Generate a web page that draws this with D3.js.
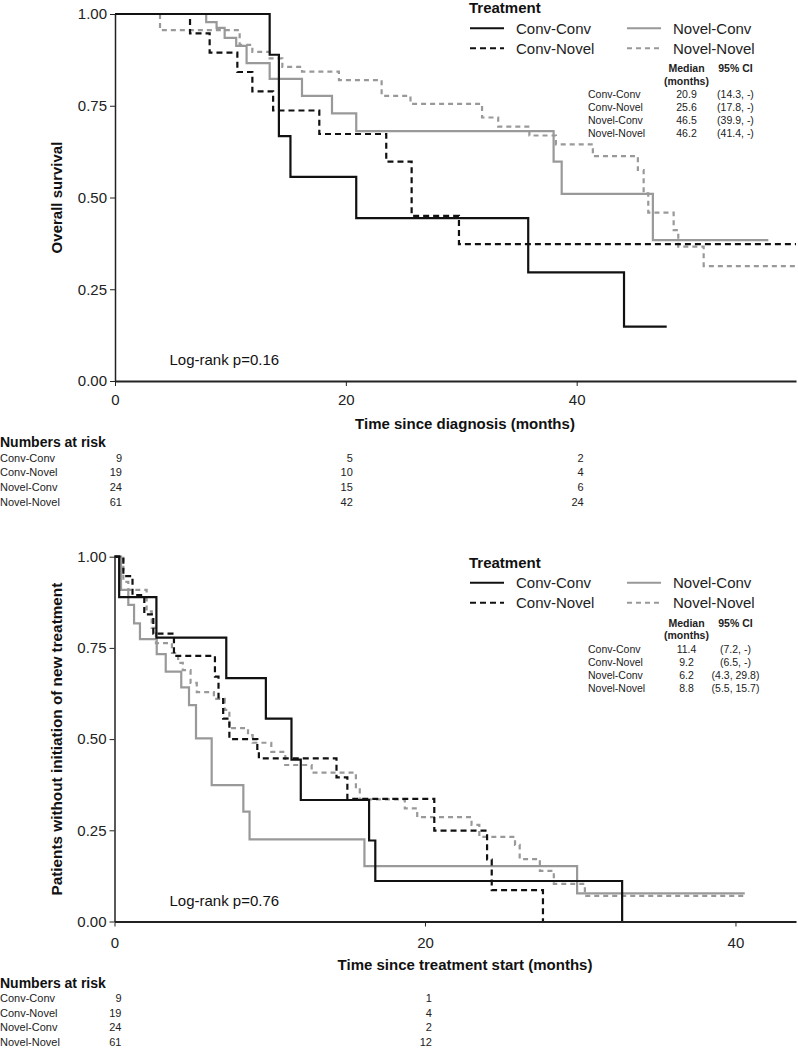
<!DOCTYPE html>
<html><head><meta charset="utf-8">
<script src="https://cdn.jsdelivr.net/npm/d3@7"></script>
<style>
body{margin:0;background:#fff}
svg{display:block}
text{font-family:"Liberation Sans",Arial,Helvetica,sans-serif}
</style>
</head><body>
<svg id="chart" width="798" height="1048"></svg>
<script>
// ---------------- DATA ----------------
const groups = ["Conv-Conv", "Conv-Novel", "Novel-Conv", "Novel-Novel"];
const yTicks = [0, 0.25, 0.5, 0.75, 1];
const xTicks = [0, 20, 40];

// Panel A: overall survival (time since diagnosis, months)
const osConvConvT  = [0, 13.4, 14.2, 15.2, 20.9, 35.8, 44.1, 47.8];
const osConvConvS  = [1, 0.889, 0.667, 0.556, 0.444, 0.296, 0.148, 0.148];
const osConvNovelT = [0, 6.5, 8.2, 10.6, 11.9, 13.7, 17.7, 23.5, 25.7, 29.8, 59];
const osConvNovelS = [1, 0.947, 0.895, 0.842, 0.789, 0.737, 0.673, 0.598, 0.45, 0.373, 0.373];
const osNovelConvT = [0, 7.9, 8.8, 9.5, 10.5, 11.4, 13.4, 16.2, 18.8, 20.9, 38.0, 38.7, 46.6, 56.6];
const osNovelConvS = [1, 0.978, 0.962, 0.935, 0.913, 0.866, 0.823, 0.777, 0.729, 0.681, 0.598, 0.51, 0.384, 0.384];
const osNovelNovelT = [0, 3.9, 10.8, 11.9, 13.4, 14.5, 16.2, 19.4, 23.1, 25.6, 31.8, 33.2, 35.9, 38.2, 41.4, 45.3, 45.8, 46.2, 48.4, 48.8, 51.0, 59];
const osNovelNovelS = [1, 0.956, 0.916, 0.897, 0.879, 0.856, 0.843, 0.82, 0.777, 0.755, 0.718, 0.693, 0.669, 0.645, 0.613, 0.575, 0.511, 0.459, 0.411, 0.366, 0.313, 0.313];
const osRiskTimes = [0, 20, 40];
const osRisk = [[9, 5, 2], [19, 10, 4], [24, 15, 6], [61, 42, 24]];
const osMedian = ["20.9", "25.6", "46.5", "46.2"];
const osCI = ["(14.3, -)", "(17.8, -)", "(39.9, -)", "(41.4, -)"];
const osLogRank = "Log-rank p=0.16";

// Panel B: time to new treatment (time since treatment start, months)
const ntConvConvT  = [0, 0.3, 2.7, 7.2, 9.75, 11.4, 12.0, 16.4, 16.8, 32.7];
const ntConvConvS  = [1, 0.889, 0.778, 0.667, 0.556, 0.444, 0.333, 0.222, 0.111, 0];
const ntConvNovelT = [0, 0.57, 1.16, 1.92, 2.5, 3.83, 6.47, 6.7, 7.0, 7.4, 9.2, 9.3, 14.3, 15.0, 20.6, 24.0, 24.3, 27.6];
const ntConvNovelS = [1, 0.947, 0.895, 0.842, 0.789, 0.728, 0.671, 0.614, 0.556, 0.50, 0.47, 0.447, 0.395, 0.336, 0.249, 0.17, 0.086, 0];
const ntNovelConvT = [0, 0.42, 0.89, 1.26, 1.64, 2.72, 3.3, 4.3, 4.8, 5.25, 6.26, 8.3, 8.7, 16.1, 29.8, 40.6];
const ntNovelConvS = [1, 0.909, 0.868, 0.817, 0.774, 0.733, 0.685, 0.642, 0.593, 0.502, 0.374, 0.301, 0.225, 0.152, 0.077, 0.077];
const ntNovelNovelT = [0, 0.57, 0.89, 2.07, 2.4, 2.67, 3.7, 4.1, 4.4, 4.9, 5.3, 6.4, 7.1, 7.4, 8.6, 8.9, 10.1, 11.0, 12.7, 15.55, 15.8, 18.7, 19.5, 23.0, 23.5, 25.8, 26.1, 27.4, 28.3, 30.3, 40.7];
const ntNovelNovelS = [1, 0.931, 0.909, 0.85, 0.805, 0.763, 0.736, 0.709, 0.689, 0.654, 0.629, 0.61, 0.58, 0.53, 0.511, 0.49, 0.465, 0.429, 0.408, 0.362, 0.335, 0.31, 0.286, 0.265, 0.232, 0.21, 0.171, 0.139, 0.103, 0.07, 0.07];
const ntRiskTimes = [0, 20];
const ntRisk = [[9, 1], [19, 4], [24, 2], [61, 12]];
const ntMedian = ["11.4", "9.2", "6.2", "8.8"];
const ntCI = ["(7.2, -)", "(6.5, -)", "(4.3, 29.8)", "(5.5, 15.7)"];
const ntLogRank = "Log-rank p=0.76";

// ---------------- STYLE / LAYOUT ----------------
const styles = {
  "Conv-Conv":   {color: "#111", dash: null,  w: 2.2},
  "Conv-Novel":  {color: "#111", dash: "6,4", w: 2.2},
  "Novel-Conv":  {color: "#999", dash: null,  w: 2.2},
  "Novel-Novel": {color: "#999", dash: "5,4", w: 2.2}
};
const drawOrder = ["Novel-Novel", "Novel-Conv", "Conv-Novel", "Conv-Conv"];

const panels = [
  {
    curves: {"Conv-Conv": [osConvConvT, osConvConvS], "Conv-Novel": [osConvNovelT, osConvNovelS],
             "Novel-Conv": [osNovelConvT, osNovelConvS], "Novel-Novel": [osNovelNovelT, osNovelNovelS]},
    xDomain: [0, 59], xRange: [115, 796], yRange: [381, 14],
    yTitle: "Overall survival", xTitle: "Time since diagnosis (months)",
    riskTimes: osRiskTimes, risk: osRisk, median: osMedian, ci: osCI, logrank: osLogRank,
    legendTop: 0, xPad: 8, yTitleSize: 15
  },
  {
    curves: {"Conv-Conv": [ntConvConvT, ntConvConvS], "Conv-Novel": [ntConvNovelT, ntConvNovelS],
             "Novel-Conv": [ntNovelConvT, ntNovelConvS], "Novel-Novel": [ntNovelNovelT, ntNovelNovelS]},
    xDomain: [0, 43.9], xRange: [114.5, 796], yRange: [921.5, 556.7],
    yTitle: "Patients without initiation of new treatment", xTitle: "Time since treatment start (months)",
    riskTimes: ntRiskTimes, risk: ntRisk, median: ntMedian, ci: ntCI, logrank: ntLogRank,
    legendTop: 554.5, xPad: 11, yTitleSize: 15.3
  }
];

const svg = d3.select("#chart");
const axisColor = "#222";

panels.forEach(p => {
  const x = d3.scaleLinear().domain(p.xDomain).range(p.xRange);
  const y = d3.scaleLinear().domain([0, 1]).range(p.yRange);
  const g = svg.append("g");
  const y0 = p.yRange[0];

  // curves
  const line = d3.line().x(d => x(d[0])).y(d => y(d[1])).curve(d3.curveStepAfter);
  drawOrder.forEach(k => {
    const [T, S] = p.curves[k];
    const pts = T.map((t, i) => [t, S[i]]);
    const st = styles[k];
    g.append("path").datum(pts)
      .attr("d", line)
      .attr("fill", "none")
      .attr("stroke", st.color)
      .attr("stroke-width", st.w)
      .attr("stroke-dasharray", st.dash)
      .attr("stroke-linejoin", "miter");
  });

  // y axis
  const ya = g.append("g").attr("transform", `translate(${p.xRange[0]},0)`)
    .call(d3.axisLeft(y).tickValues(yTicks).tickFormat(d3.format(".2f")).tickSize(5).tickSizeOuter(0).tickPadding(3));
  ya.select(".domain").attr("stroke", axisColor).attr("stroke-width", 1.5);
  ya.selectAll(".tick line").attr("stroke", axisColor).attr("stroke-width", 1);
  ya.selectAll(".tick text").attr("font-size", 15).attr("fill", "#222")
    .attr("font-family", "'Liberation Sans',Arial,sans-serif");

  // x axis
  const xa = g.append("g").attr("transform", `translate(0,${y0})`)
    .call(d3.axisBottom(x).tickValues(xTicks).tickFormat(d3.format("d")).tickSize(5).tickSizeOuter(0).tickPadding(p.xPad));
  xa.select(".domain").attr("stroke", axisColor).attr("stroke-width", 2);
  xa.selectAll(".tick line").attr("stroke", axisColor).attr("stroke-width", 1);
  xa.selectAll(".tick text").attr("font-size", 15).attr("fill", "#222")
    .attr("font-family", "'Liberation Sans',Arial,sans-serif");

  // axis titles
  g.append("text")
    .attr("transform", `translate(62,${(p.yRange[0] + p.yRange[1]) / 2}) rotate(-90)`)
    .attr("text-anchor", "middle").attr("font-size", p.yTitleSize).attr("font-weight", "bold").attr("fill", "#111")
    .text(p.yTitle);
  g.append("text")
    .attr("x", 465).attr("y", y0 + 48)
    .attr("text-anchor", "middle").attr("font-size", 15).attr("font-weight", "bold").attr("fill", "#111")
    .text(p.xTitle);

  // log-rank
  g.append("text").attr("x", 169.5).attr("y", y0 - 16)
    .attr("font-size", 15).attr("fill", "#111").text(p.logrank);

  // numbers at risk
  g.append("text").attr("x", 0).attr("y", y0 + 66)
    .attr("font-size", 14).attr("font-weight", "bold").attr("fill", "#111").text("Numbers at risk");
  groups.forEach((gr, i) => {
    const ry = y0 + 80.7 + i * 14.6;
    g.append("text").attr("x", 0).attr("y", ry).attr("font-size", 11).attr("fill", "#222").text(gr);
    p.riskTimes.forEach((t, j) => {
      g.append("text").attr("x", x(t) + 7).attr("y", ry).attr("text-anchor", "end")
        .attr("font-size", 11).attr("fill", "#222").text(p.risk[i][j]);
    });
  });

  // legend
  const L = g.append("g").attr("transform", `translate(0,${p.legendTop})`);
  L.append("text").attr("x", 469).attr("y", 13.3).attr("font-size", 15).attr("font-weight", "bold")
    .attr("fill", "#111").text("Treatment");
  const legPos = [[470, 28.3], [470, 48.3], [627, 28.3], [627, 48.3]];
  groups.forEach((gr, i) => {
    const [lx, ly] = legPos[i];
    const st = styles[gr];
    L.append("line").attr("x1", lx).attr("x2", lx + 34).attr("y1", ly).attr("y2", ly)
      .attr("stroke", st.color).attr("stroke-width", 2).attr("stroke-dasharray", st.dash);
    L.append("text").attr("x", lx + 46).attr("y", ly + 5.3).attr("font-size", 15).attr("fill", "#222").text(gr);
  });
  // median table
  L.append("text").attr("x", 686.5).attr("y", 72).attr("text-anchor", "middle").attr("font-size", 10.5)
    .attr("font-weight", "bold").attr("fill", "#222").text("Median");
  L.append("text").attr("x", 686.5).attr("y", 84.5).attr("text-anchor", "middle").attr("font-size", 10.5)
    .attr("font-weight", "bold").attr("fill", "#222").text("(months)");
  L.append("text").attr("x", 735.5).attr("y", 72).attr("text-anchor", "middle").attr("font-size", 10.5)
    .attr("font-weight", "bold").attr("fill", "#222").text("95% CI");
  groups.forEach((gr, i) => {
    const ty = 98 + i * 13;
    L.append("text").attr("x", 588).attr("y", ty).attr("font-size", 10.5).attr("fill", "#222").text(gr);
    L.append("text").attr("x", 686.5).attr("y", ty).attr("text-anchor", "middle").attr("font-size", 10.5).attr("fill", "#222").text(p.median[i]);
    L.append("text").attr("x", 735.5).attr("y", ty).attr("text-anchor", "middle").attr("font-size", 10.5).attr("fill", "#222").text(p.ci[i]);
  });
});
</script>
</body></html>
